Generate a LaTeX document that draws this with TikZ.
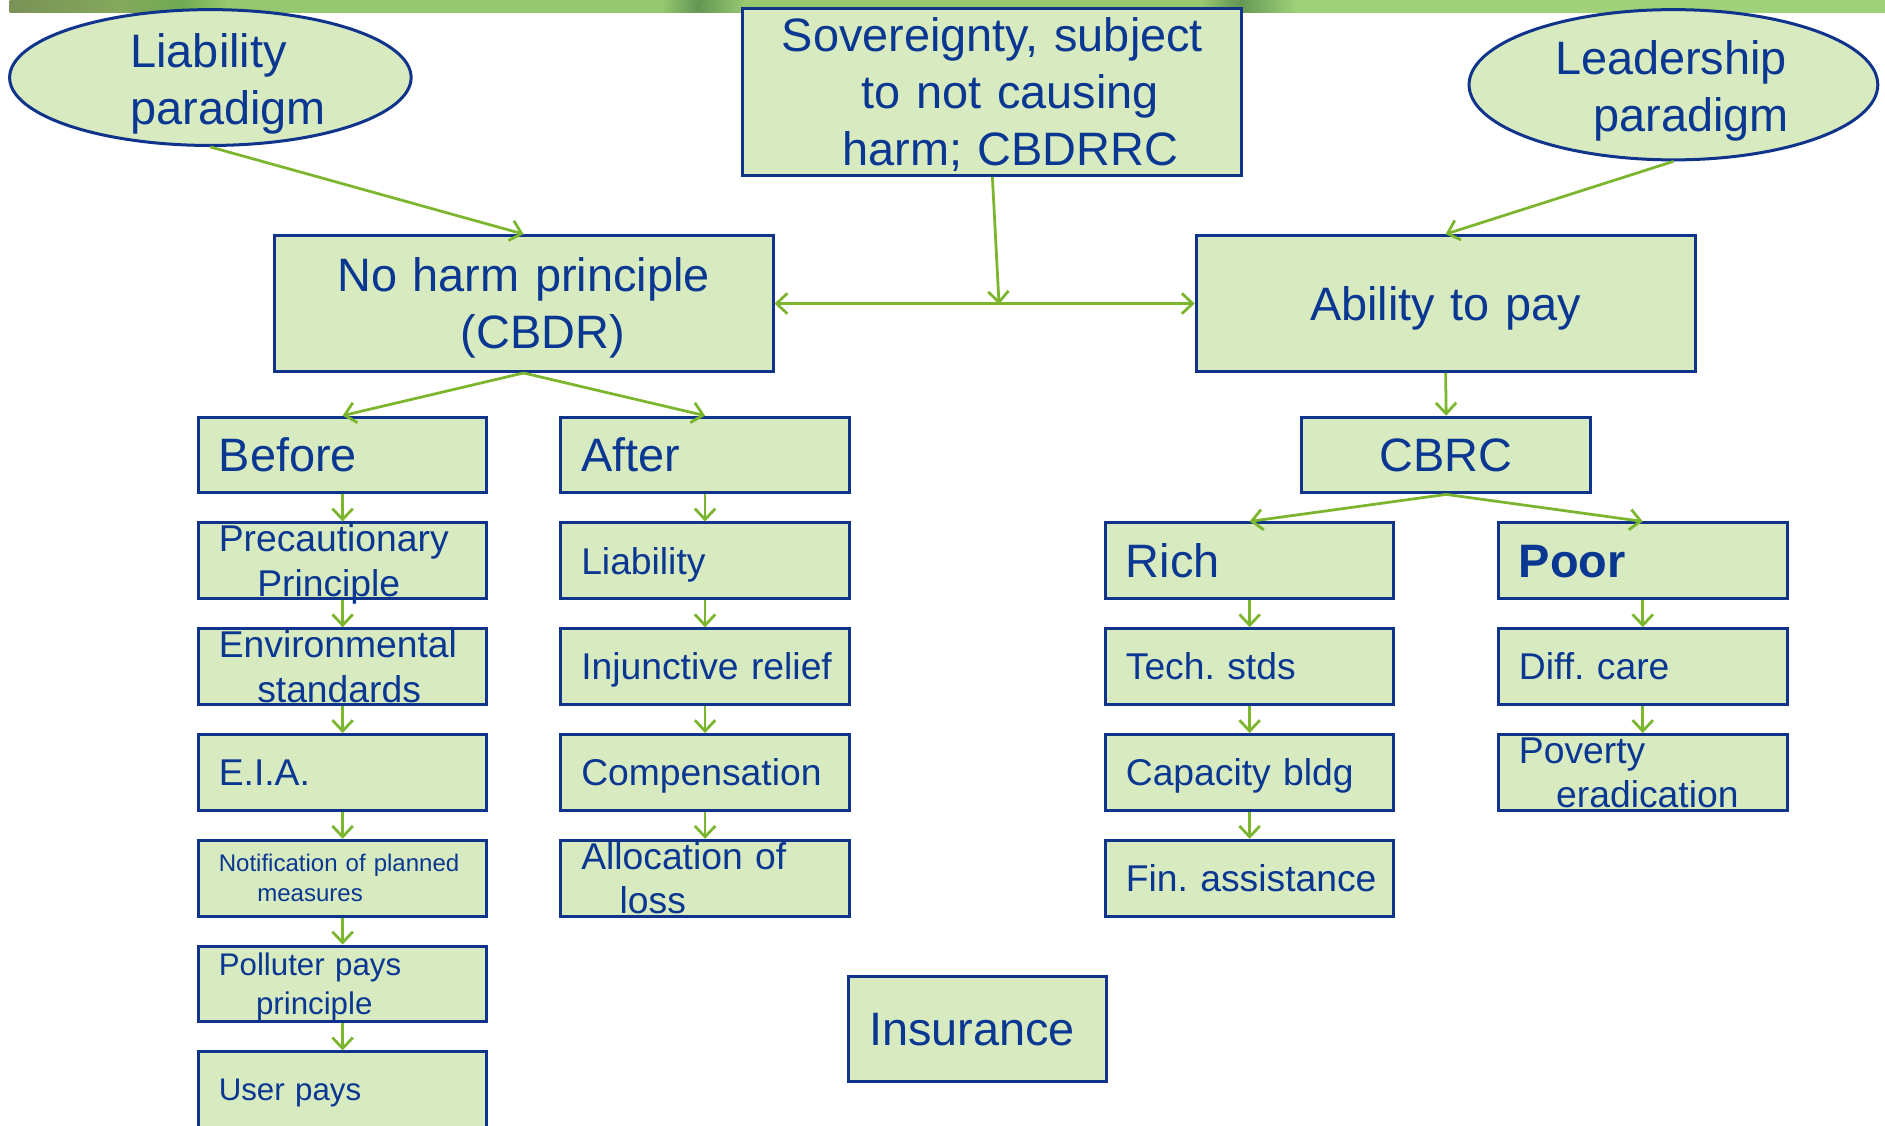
\documentclass[tikz,border=0pt]{standalone}
\usepackage{fontspec}
\setmainfont{Liberation Sans}
\usetikzlibrary{shapes.geometric,arrows.meta}

\definecolor{boxfill}{RGB}{216,234,192}
\definecolor{edge}{RGB}{16,52,140}
\definecolor{ink}{RGB}{10,55,145}
\definecolor{linkgreen}{RGB}{124,182,46}
\definecolor{bandA}{RGB}{122,146,86}
\definecolor{bandB}{RGB}{132,168,92}
\definecolor{bandC}{RGB}{112,170,82}
\definecolor{bandD}{RGB}{150,200,112}
\definecolor{bandE}{RGB}{100,150,84}
\definecolor{bandF}{RGB}{160,210,122}

\hyphenpenalty=10000
\exhyphenpenalty=10000

\begin{document}
\frenchspacing
\begin{tikzpicture}[x=1pt,y=-1pt,
  box/.style={draw=edge, line width=2.5pt, fill=boxfill, inner sep=0pt},
  oval/.style={ellipse, draw=edge, line width=2.5pt, fill=boxfill, inner sep=0pt},
  cell/.style={box, minimum width=240pt, minimum height=63pt},
  txt/.style={text=ink, inner sep=0pt, text depth=0pt},
  lft/.style={txt, align=left, text width=220pt, xshift=7pt},
  ctr/.style={txt, align=center, text width=390pt},
  ml/.style={text depth=#1},
  t39/.style={font=\fontsize{39}{47.5}\selectfont, text height=27.9pt},
  t31/.style={font=\fontsize{31}{37}\selectfont, text height=22.2pt},
  t26/.style={font=\fontsize{26}{32}\selectfont, text height=18.6pt},
  t20/.style={font=\fontsize{20}{25}\selectfont, text height=14.3pt},
  barb/.tip={Straight Barb[length=9pt,width=17pt]},
  link/.style={draw=linkgreen, line width=2.3pt, -barb},
  bilink/.style={draw=linkgreen, line width=2.3pt, barb-barb}
]
\useasboundingbox (0,0) rectangle (1568,936);
\clip (0,0) rectangle (1568,936);

% decorative band along the top edge
\shade[left color=bandA, right color=bandB] (8,0) rectangle (100,10);
\shade[left color=bandB, right color=bandC] (100,0) rectangle (150,10);
\shade[left color=bandC, right color=bandD] (150,0) rectangle (190,10);
\shade[left color=bandD, right color=bandD] (190,0) rectangle (550,10);
\shade[left color=bandD, right color=bandE] (550,0) rectangle (580,10);
\shade[left color=bandE, right color=bandD] (580,0) rectangle (620,10);
\shade[left color=bandD, right color=bandD] (620,0) rectangle (1000,10);
\shade[left color=bandD, right color=bandE] (1000,0) rectangle (1030,10);
\shade[left color=bandE, right color=bandF] (1030,0) rectangle (1080,10);
\shade[left color=bandF, right color=bandF] (1080,0) rectangle (1568,10);

% top row: the two paradigms and the sovereignty principle
\node[oval, minimum width=334pt, minimum height=113pt] (liab) at (175,64.5) {};
\node[txt, t39, align=left, text width=197pt, ml=47.5pt] (liab-t) at (175,66)
  {\hspace*{32pt}Liability\\\hspace*{32pt}paradigm};

\node[oval, minimum width=340pt, minimum height=125pt] (lead) at (1392,70.5) {};
\node[txt, t39, align=left, text width=197pt, ml=47.5pt] (lead-t) at (1392,72)
  {Leadership\\\hspace*{32pt}paradigm};

\node[box, minimum width=415pt, minimum height=139pt] (sov) at (825.5,76.5) {};
\node[ctr, t39, ml=95pt] (sov-t) at (sov.center)
  {Sovereignty, subject\\\hspace*{30pt}to not causing\\\hspace*{30pt}harm; CBDRRC};

% second row
\node[box, minimum width=415pt, minimum height=113pt] (noharm) at (435.5,252.5) {};
\node[ctr, t39, ml=47.5pt] (noharm-t) at (noharm.center)
  {No harm principle\\\hspace*{32pt}(CBDR)};

\node[box, minimum width=415pt, minimum height=113pt] (ability) at (1202.5,252.5) {};
\node[ctr, t39] (ability-t) at (ability.center) {Ability to pay};

\node[box, minimum width=240pt, minimum height=63pt] (cbrc) at (1203,378.5) {};
\node[ctr, t39, text width=220pt] (cbrc-t) at (cbrc.center) {CBRC};

% "Before" column
\node[cell] (before) at (285,378.5) {};
\node[lft, t39] (before-t) at (before.center) {Before};
\node[cell] (prec) at (285,466.5) {};
\node[lft, t31, ml=37pt] (prec-t) at (prec.center) {Precautionary\\\hspace*{32pt}Principle};
\node[cell] (env) at (285,554.5) {};
\node[lft, t31, ml=37pt] (env-t) at (env.center) {Environmental\\\hspace*{32pt}standards};
\node[cell] (eia) at (285,642.5) {};
\node[lft, t31] (eia-t) at (eia.center) {E.I.A.};
\node[cell] (notif) at (285,730.5) {};
\node[lft, t20, ml=25pt] (notif-t) at (notif.center) {Notification of planned\\\hspace*{32pt}measures};
\node[cell] (poll) at (285,818.5) {};
\node[lft, t26, ml=32pt] (poll-t) at (poll.center) {Polluter pays\\\hspace*{31pt}principle};
\node[cell] (user) at (285,906.5) {};
\node[lft, t26] (user-t) at (user.center) {User pays};

% "After" column
\node[cell] (after) at (586.5,378.5) {};
\node[lft, t39] (after-t) at (after.center) {After};
\node[cell] (liabl) at (586.5,466.5) {};
\node[lft, t31] (liabl-t) at (liabl.center) {Liability};
\node[cell] (injun) at (586.5,554.5) {};
\node[lft, t31] (injun-t) at (injun.center) {Injunctive relief};
\node[cell] (comp) at (586.5,642.5) {};
\node[lft, t31] (comp-t) at (comp.center) {Compensation};
\node[cell] (alloc) at (586.5,730.5) {};
\node[lft, t31, ml=37pt] (alloc-t) at (alloc.center) {Allocation of\\\hspace*{32pt}loss};

% "Rich" column
\node[cell] (rich) at (1039.5,466.5) {};
\node[lft, t39] (rich-t) at (rich.center) {Rich};
\node[cell] (tech) at (1039.5,554.5) {};
\node[lft, t31] (tech-t) at (tech.center) {Tech. stds};
\node[cell] (capb) at (1039.5,642.5) {};
\node[lft, t31] (capb-t) at (capb.center) {Capacity bldg};
\node[cell] (fin) at (1039.5,730.5) {};
\node[lft, t31] (fin-t) at (fin.center) {Fin. assistance};

% "Poor" column
\node[cell] (poor) at (1366.5,466.5) {};
\node[lft, t39, font=\fontsize{39}{47.5}\selectfont\bfseries] (poor-t) at (poor.center) {Poor};
\node[cell] (diff) at (1366.5,554.5) {};
\node[lft, t31] (diff-t) at (diff.center) {Diff. care};
\node[cell] (pov) at (1366.5,642.5) {};
\node[lft, t31, ml=37pt] (pov-t) at (pov.center) {Poverty\\\hspace*{31pt}eradication};

% stand-alone box
\node[box, minimum width=214pt, minimum height=88pt] (ins) at (813,856) {};
\node[txt, t39, align=left, text width=180pt] (ins-t) at (ins.center) {Insurance};

% connectors
\coordinate (meet) at (831,253);
\draw[link] (liab.south) -- (noharm.north);
\draw[link] (lead.south) -- (ability.north);
\draw[link] (sov.south) -- (meet);
\draw[bilink] (noharm.east) -- (ability.west);
\draw[link] (noharm.south) -- (before.north);
\draw[link] (noharm.south) -- (after.north);
\draw[link] (ability.south) -- (cbrc.north);
\draw[link] (cbrc.south) -- (rich.north);
\draw[link] (cbrc.south) -- (poor.north);
\foreach \a/\b in {before/prec, prec/env, env/eia, eia/notif, notif/poll, poll/user,
                   after/liabl, liabl/injun, injun/comp, comp/alloc,
                   rich/tech, tech/capb, capb/fin, poor/diff, diff/pov}
  \draw[link] (\a.south) -- (\b.north);
\end{tikzpicture}
\end{document}
